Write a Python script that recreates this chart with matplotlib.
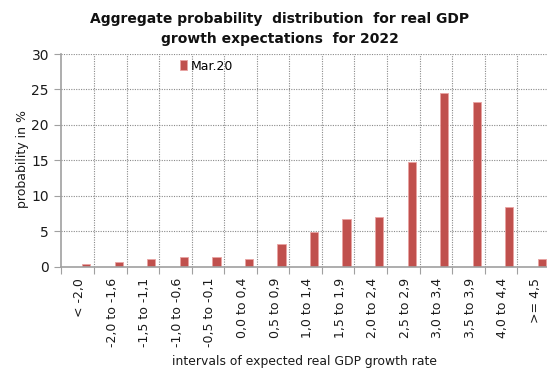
import matplotlib
matplotlib.use("Agg")
import matplotlib.pyplot as plt
import matplotlib.transforms as mtransforms
from matplotlib.patches import Patch
import numpy as np

categories = ["< -2,0", "-2,0 to -1,6", "-1,5 to -1,1", "-1,0 to -0,6", "-0,5 to -0,1",
              "0,0 to 0,4", "0,5 to 0,9", "1,0 to 1,4", "1,5 to 1,9", "2,0 to 2,4",
              "2,5 to 2,9", "3,0 to 3,4", "3,5 to 3,9", "4,0 to 4,4", ">= 4,5"]
mar20 = [0.4, 0.7, 1.05, 1.4, 1.4, 1.05, 3.2, 4.95, 6.7, 7.05, 14.75, 24.5, 23.2, 8.5, 1.05]
series_name = "Mar.20"

title = "Aggregate probability  distribution  for real GDP\ngrowth expectations  for 2022"
xlabel = "intervals of expected real GDP growth rate"
ylabel = "probability in %"

W, H = 547, 374
fig = plt.figure(figsize=(W / 100, H / 100), dpi=100)
ax = fig.add_axes([61.5 / W, 1 - 266.8 / H, 488.2 / W, (266.8 - 54) / H])

n = len(categories)
idx = np.arange(n)
bar_color = "#C0504D"
edge_color = "#E9A3A2"
# bars sit in the right half of each category slot
ax.bar(idx + 0.5 + 0.26, mar20, width=0.255, color=bar_color,
       edgecolor=edge_color, linewidth=0.6, zorder=3)

ax.set_xlim(0, n)
ax.set_ylim(0, 30)
ax.set_yticks(np.arange(0, 31, 5))

grid_kw = dict(color="#8a8a8a", linestyle=(0, (1, 1.2)), linewidth=0.8, zorder=1)
for y in range(5, 31, 5):
    ax.axhline(y, **grid_kw)
for x in range(1, n + 1):
    ax.axvline(x, **grid_kw)

# boundary ticks (major) and centred labels (minor)
ax.set_xticks(np.arange(0, n + 1))
ax.set_xticklabels([])
ax.set_xticks(idx + 0.5, minor=True)
ax.set_xticklabels(categories, minor=True, rotation=90, fontsize=9, color="#1a1a1a")
ax.tick_params(axis="x", which="major", direction="out", length=5, color="#a0a0a0")
ax.tick_params(axis="x", which="minor", length=0, pad=8)
shift = mtransforms.ScaledTranslation(2 / 100, 0, fig.dpi_scale_trans)
for lbl in ax.get_xticklabels(minor=True):
    lbl.set_transform(lbl.get_transform() + shift)

ax.tick_params(axis="y", direction="out", length=5, color="#a0a0a0",
               labelsize=10, labelcolor="#1a1a1a", pad=4)

for side in ("top", "right"):
    ax.spines[side].set_visible(False)
for side in ("left", "bottom"):
    ax.spines[side].set_color("#a0a0a0")
    ax.spines[side].set_linewidth(1.2)
    ax.spines[side].set_zorder(4)

fig.text(305 / W, 1 - 361 / H, xlabel, ha="center", va="center", fontsize=8.9, color="#1a1a1a")
fig.text(23 / W, 1 - 159 / H, ylabel, ha="center", va="center", rotation=90,
         fontsize=9, color="#1a1a1a")
fig.text(280 / W, 1 - 29 / H, title, ha="center", va="center", fontsize=10,
         fontweight="bold", linespacing=1.55, color="#111111")

handle = Patch(facecolor=bar_color, edgecolor=edge_color, linewidth=0.6)
fig.legend([handle], [series_name], loc="center left",
           bbox_to_anchor=(174 / W, 1 - 66 / H), frameon=False, fontsize=9,
           handlelength=0.5, handleheight=0.9, handletextpad=0.3, borderpad=0)

fig.savefig("out.png", dpi=100)
